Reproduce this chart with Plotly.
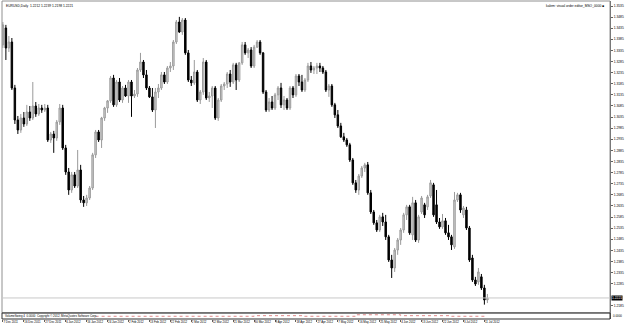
import plotly.graph_objects as go

# ---------------- data (EURUSD, Daily) ----------------
open_ = [1.3360,1.3436,1.3346,1.3373,1.3166,1.3022,1.2977,1.3031,1.3004,1.3058,
         1.3031,1.3085,1.3049,1.3076,1.3067,1.3076,1.2932,1.2959,1.2941,1.3013,
         1.3076,1.2896,1.2788,1.2707,1.2775,1.2725,1.2797,1.2662,1.2649,1.2671,
         1.2716,1.2865,1.2968,1.2932,1.3031,1.3076,1.3108,1.3211,1.3090,1.3193,
         1.3112,1.3166,1.3130,1.3193,1.3130,1.3139,1.3247,1.3283,1.3225,1.3166,
         1.3126,1.3067,1.3148,1.3166,1.3225,1.3193,1.3256,1.3265,1.3373,1.3463,
         1.3418,1.3472,1.3324,1.3202,1.3189,1.3238,1.3112,1.3148,1.3283,1.3121,
         1.3130,1.3166,1.3031,1.3112,1.3175,1.3184,1.3229,1.3193,1.3270,1.3202,
         1.3279,1.3360,1.3324,1.3337,1.3265,1.3350,1.3373,1.3324,1.3148,1.3067,
         1.3103,1.3076,1.3135,1.3166,1.3090,1.3112,1.3076,1.3166,1.3135,1.3220,
         1.3193,1.3157,1.3202,1.3265,1.3247,1.3256,1.3265,1.3256,1.3238,1.3157,
         1.3175,1.3090,1.3045,1.2995,1.2946,1.2932,1.2910,1.2842,1.2739,1.2707,
         1.2770,1.2806,1.2820,1.2694,1.2608,1.2559,1.2527,1.2586,1.2563,1.2496,
         1.2392,1.2356,1.2437,1.2482,1.2527,1.2595,1.2631,1.2505,1.2649,1.2482,
         1.2608,1.2640,1.2631,1.2680,1.2730,1.2640,1.2563,1.2541,1.2568,1.2514,
         1.2496,1.2451,1.2662,1.2685,1.2595,1.2617,1.2536,1.2401,1.2302,1.2293,
         1.2316,1.2266,1.2212]
high = [1.3463,1.3450,1.3400,1.3391,1.3180,1.3040,1.3049,1.3058,1.3090,1.3085,
        1.3193,1.3103,1.3094,1.3090,1.3094,1.3090,1.2968,1.2973,1.3022,1.3094,
        1.3090,1.2910,1.2806,1.2788,1.2788,1.2887,1.2820,1.2680,1.2685,1.2725,
        1.2874,1.2977,1.2977,1.3036,1.3081,1.3112,1.3220,1.3225,1.3202,1.3211,
        1.3175,1.3180,1.3202,1.3202,1.3157,1.3256,1.3324,1.3292,1.3247,1.3175,
        1.3166,1.3166,1.3184,1.3238,1.3238,1.3265,1.3283,1.3382,1.3472,1.3486,
        1.3481,1.3481,1.3337,1.3220,1.3292,1.3247,1.3157,1.3301,1.3292,1.3148,
        1.3175,1.3175,1.3121,1.3184,1.3193,1.3238,1.3247,1.3279,1.3279,1.3283,
        1.3373,1.3373,1.3346,1.3350,1.3360,1.3382,1.3382,1.3328,1.3157,1.3121,
        1.3130,1.3144,1.3175,1.3189,1.3130,1.3121,1.3175,1.3175,1.3229,1.3229,
        1.3225,1.3211,1.3279,1.3283,1.3265,1.3279,1.3279,1.3265,1.3247,1.3184,
        1.3184,1.3099,1.3067,1.3009,1.2964,1.2941,1.2919,1.2851,1.2752,1.2779,
        1.2815,1.2829,1.2833,1.2707,1.2617,1.2572,1.2595,1.2604,1.2595,1.2505,
        1.2415,1.2446,1.2491,1.2536,1.2604,1.2640,1.2640,1.2676,1.2662,1.2595,
        1.2680,1.2649,1.2685,1.2752,1.2739,1.2707,1.2581,1.2599,1.2581,1.2550,
        1.2505,1.2698,1.2694,1.2694,1.2635,1.2631,1.2545,1.2415,1.2316,1.2356,
        1.2329,1.2280,1.2239]
low = [1.3346,1.3292,1.3328,1.3157,1.3004,1.2959,1.2964,1.2991,1.2995,1.3018,
       1.3022,1.3036,1.3040,1.3054,1.3058,1.2923,1.2919,1.2874,1.2928,1.3000,
       1.2887,1.2775,1.2685,1.2694,1.2716,1.2716,1.2649,1.2631,1.2635,1.2662,
       1.2707,1.2851,1.2923,1.2896,1.3018,1.3054,1.3099,1.3081,1.3081,1.3103,
       1.3099,1.3126,1.3099,1.3036,1.3121,1.3126,1.3238,1.3211,1.3157,1.3121,
       1.3058,1.2986,1.3121,1.3157,1.3184,1.3184,1.3238,1.3247,1.3364,1.3414,
       1.3405,1.3315,1.3193,1.3175,1.3180,1.3103,1.3094,1.3135,1.3112,1.3103,
       1.3076,1.3022,1.3018,1.3103,1.3157,1.3166,1.3171,1.3184,1.3157,1.3193,
       1.3270,1.3315,1.3301,1.3256,1.3256,1.3346,1.3315,1.3139,1.3058,1.3058,
       1.3067,1.3067,1.3112,1.3076,1.3067,1.3067,1.3067,1.3121,1.3126,1.3175,
       1.3148,1.3148,1.3193,1.3234,1.3229,1.3229,1.3238,1.3229,1.3148,1.3126,
       1.3081,1.3031,1.2986,1.2941,1.2923,1.2901,1.2833,1.2730,1.2694,1.2685,
       1.2761,1.2788,1.2685,1.2599,1.2550,1.2518,1.2518,1.2545,1.2482,1.2383,
       1.2311,1.2338,1.2415,1.2460,1.2514,1.2572,1.2505,1.2482,1.2473,1.2469,
       1.2599,1.2581,1.2617,1.2671,1.2586,1.2554,1.2532,1.2532,1.2505,1.2482,
       1.2437,1.2442,1.2653,1.2604,1.2581,1.2527,1.2383,1.2293,1.2275,1.2280,
       1.2257,1.2191,1.2198]
close = [1.3450,1.3346,1.3373,1.3166,1.3022,1.2977,1.3031,1.3004,1.3058,1.3031,
         1.3085,1.3049,1.3076,1.3067,1.3076,1.2932,1.2959,1.2941,1.3013,1.3076,
         1.2896,1.2788,1.2707,1.2775,1.2725,1.2797,1.2662,1.2649,1.2671,1.2716,
         1.2865,1.2968,1.2932,1.3031,1.3076,1.3108,1.3211,1.3090,1.3193,1.3112,
         1.3166,1.3130,1.3193,1.3130,1.3139,1.3247,1.3283,1.3225,1.3166,1.3126,
         1.3067,1.3148,1.3166,1.3225,1.3193,1.3256,1.3265,1.3373,1.3463,1.3418,
         1.3472,1.3324,1.3202,1.3189,1.3238,1.3112,1.3148,1.3283,1.3121,1.3130,
         1.3166,1.3031,1.3112,1.3175,1.3184,1.3229,1.3193,1.3270,1.3202,1.3279,
         1.3360,1.3324,1.3337,1.3265,1.3350,1.3373,1.3324,1.3148,1.3067,1.3103,
         1.3076,1.3135,1.3166,1.3090,1.3112,1.3076,1.3166,1.3135,1.3220,1.3193,
         1.3157,1.3202,1.3265,1.3247,1.3256,1.3265,1.3256,1.3238,1.3157,1.3175,
         1.3090,1.3045,1.2995,1.2946,1.2932,1.2910,1.2842,1.2739,1.2707,1.2770,
         1.2806,1.2820,1.2694,1.2608,1.2559,1.2527,1.2586,1.2563,1.2496,1.2392,
         1.2356,1.2437,1.2482,1.2527,1.2595,1.2631,1.2514,1.2649,1.2482,1.2586,
         1.2671,1.2595,1.2676,1.2739,1.2595,1.2563,1.2541,1.2568,1.2514,1.2496,
         1.2460,1.2662,1.2685,1.2617,1.2626,1.2536,1.2392,1.2302,1.2284,1.2338,
         1.2266,1.2212,1.2221]
bar_pos = list(range(len(close)))

date_tick_pos = [0, 7, 14, 21, 28, 35, 42, 49, 56, 63, 70, 77, 84, 91, 98, 105,
                 112, 119, 126, 133, 140, 147, 154, 161]
date_tick_text = ["7 Dec 2011", "16 Dec 2011", "27 Dec 2011", "6 Jan 2012", "16 Jan 2012",
                  "24 Jan 2012", "2 Feb 2012", "13 Feb 2012", "22 Feb 2012", "2 Mar 2012",
                  "12 Mar 2012", "21 Mar 2012", "30 Mar 2012", "9 Apr 2012", "18 Apr 2012",
                  "27 Apr 2012", "7 May 2012", "16 May 2012", "25 May 2012", "4 Jun 2012",
                  "13 Jun 2012", "22 Jun 2012", "3 Jul 2012", "11 Jul 2012"]
price_ticks = [1.3535, 1.3485, 1.3435, 1.3385, 1.3335, 1.3285, 1.3235, 1.3185, 1.3135,
               1.3085, 1.3035, 1.2985, 1.2935, 1.2885, 1.2835, 1.2785, 1.2735, 1.2685,
               1.2635, 1.2585, 1.2535, 1.2485, 1.2435, 1.2385, 1.2335, 1.2285, 1.2185]

# indicator sub-window (dotted swing line)
swing_x = [31, 60, 84, 100, 118, 133, 150, 162]
swing_y = [0.45, 0.45, 0.55, 0.45, 0.70, 0.55, 0.45, 0.45]

FONT = "Liberation Sans"
FS = 3.3
FS_DATE = 2.9

fig = go.Figure()
fig.add_trace(go.Candlestick(
    x=bar_pos, open=open_, high=high, low=low, close=close,
    increasing=dict(line=dict(color="#9a9a9a", width=1), fillcolor="#d4d4d4"),
    decreasing=dict(line=dict(color="#000000", width=1), fillcolor="#000000"),
    whiskerwidth=0, xaxis="x", yaxis="y", hoverinfo="skip"))
fig.add_trace(go.Scatter(
    x=swing_x, y=swing_y, mode="lines", line=dict(color="#e08a8a", width=1, dash="dot", shape="hv"),
    xaxis="x", yaxis="y2", hoverinfo="skip"))

sub_top = 0.019
fig.update_layout(
    width=625, height=325,
    margin=dict(l=2, r=13, t=1, b=6),
    paper_bgcolor="white", plot_bgcolor="white",
    showlegend=False,
    font=dict(family=FONT, size=FS, color="black"),
    xaxis=dict(range=[-0.3, 203.0], tickvals=date_tick_pos, ticktext=date_tick_text,
               tickangle=0, ticklabelposition="outside right",
               tickfont=dict(size=FS_DATE, family=FONT),
               ticks="outside", ticklen=2, tickcolor="#606060",
               showgrid=False, zeroline=False, showline=False,
               rangeslider=dict(visible=False), anchor="y2"),
    yaxis=dict(domain=[sub_top, 1], range=[1.21535, 1.35575], side="right",
               tickvals=price_ticks, tickformat=".4f", tickfont=dict(size=FS, family=FONT),
               ticks="outside", ticklen=2, tickcolor="#606060",
               showgrid=False, zeroline=False, showline=True, linecolor="#606060",
               linewidth=1, anchor="x"),
    yaxis2=dict(domain=[0, sub_top], range=[0, 1], side="right", showticklabels=False,
                showgrid=False, zeroline=False, showline=True, linecolor="#606060",
                anchor="x"),
    shapes=[
        dict(type="rect", xref="paper", yref="paper", x0=0, x1=1, y0=sub_top, y1=1,
             line=dict(color="#909090", width=1)),
        dict(type="rect", xref="paper", yref="paper", x0=0, x1=1, y0=0, y1=sub_top,
             line=dict(color="#303030", width=1)),
        dict(type="line", xref="paper", yref="y", x0=0, x1=1, y0=close[-1], y1=close[-1],
             line=dict(color="#c8c8c8", width=1)),
    ],
    annotations=[
        dict(xref="paper", yref="paper", x=0.004, y=0.997, xanchor="left", yanchor="top",
             text="EURUSD,Daily  %.4f %.4f %.4f %.4f" % (open_[-1], high[-1], low[-1], close[-1]),
             showarrow=False, font=dict(size=FS, family=FONT)),
        dict(xref="paper", yref="paper", x=0.994, y=0.997, xanchor="right", yanchor="top",
             text="kalem: visual order editor_MSO_0000 \u25a0", showarrow=False,
             font=dict(size=FS, family=FONT)),
        dict(xref="paper", yref="y", x=1.002, y=close[-1], xanchor="left", yanchor="middle",
             text="%.4f" % close[-1], showarrow=False, bgcolor="black",
             font=dict(size=FS, family=FONT, color="white"), borderpad=0),
        dict(xref="paper", yref="y2", x=0.002, y=0.5, xanchor="left", yanchor="middle",
             text="VolumeSwing 4  0.0000  Copyright \u00a9 2012, MetaQuotes Software Corp.",
             showarrow=False, font=dict(size=FS_DATE, family=FONT)),
        dict(xref="paper", yref="y2", x=1.002, y=0.5, xanchor="left", yanchor="middle",
             text="0.0000", showarrow=False, font=dict(size=FS_DATE, family=FONT)),
    ],
)

fig.write_html("out.html")
